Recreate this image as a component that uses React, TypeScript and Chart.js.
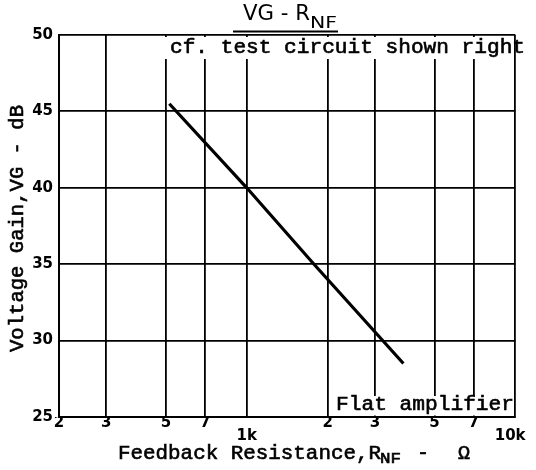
import React, { useEffect, useRef } from 'react';
import { Chart, registerables } from 'chart.js';

Chart.register(...registerables);

// ---- data ----
const resistanceOhm = [515, 1000, 1780, 3830];
const voltageGainDb = [45.5, 40, 35, 28.5];

const xTickValues = [200, 300, 500, 700, 1000, 2000, 3000, 5000, 7000, 10000];
const xTickLabels: (string | string[])[] = ['2', '3', '5', '7', ['', '1k'], '2', '3', '5', '7', ['', '10k  ']];
const yTickValues = [25, 30, 35, 40, 45, 50];

const titleMain = 'VG - R';
const titleSub = 'NF';
const noteTop = 'cf. test circuit shown right';
const noteBottom = 'Flat amplifier';
const xTitleMain = 'Feedback Resistance,R';
const xTitleSub = 'NF';
const xTitleDash = '-';
const xTitleUnit = 'Ω';
const yTitle = 'Voltage Gain,VG - dB';

const MONO = '"Liberation Mono", "DejaVu Sans Mono", monospace';
const SANS = '"DejaVu Sans", "Liberation Sans", sans-serif';

function fitText(ctx: CanvasRenderingContext2D, text: string, x: number, y: number, width: number, font: string, heavy = true) {
  ctx.save();
  ctx.font = font;
  ctx.textAlign = 'left';
  ctx.textBaseline = 'alphabetic';
  const w = ctx.measureText(text).width;
  ctx.translate(x, y);
  ctx.scale(width / w, 1);
  ctx.fillText(text, 0, 0);
  if (heavy) {
    ctx.lineWidth = 0.6;
    ctx.strokeText(text, 0, 0);
  }
  ctx.restore();
}

const annotationPlugin = {
  id: 'annotations',
  beforeDatasetsDraw(chart: any) {
    const { ctx, chartArea } = chart;
    const r = chartArea.right;
    const b = chartArea.bottom;
    const t = chartArea.top;
    ctx.save();
    ctx.fillStyle = '#fff';
    // blank areas behind the notes (gridlines stop at the text)
    ctx.fillRect(165, t + 2, r - 2 - 165, 22);
    ctx.fillRect(330, b - 21, r - 2 - 330, 19.5);
    ctx.restore();
  },
  afterDraw(chart: any) {
    const { ctx } = chart;
    ctx.save();
    ctx.fillStyle = '#000';
    ctx.strokeStyle = '#000';

    // title
    fitText(ctx, titleMain, 243, 20, 67, `21px ${SANS}`, false);
    fitText(ctx, titleSub, 310, 28, 27, `15px ${SANS}`, false);
    ctx.lineWidth = 2;
    ctx.beginPath();
    ctx.moveTo(233, 31.5);
    ctx.lineTo(338, 31.5);
    ctx.stroke();

    // notes
    fitText(ctx, noteTop, 170, 53, 355, `20px ${MONO}`);
    fitText(ctx, noteBottom, 336, 410, 178, `20px ${MONO}`);

    // x title
    fitText(ctx, xTitleMain, 118, 459, 263, `20px ${MONO}`);
    fitText(ctx, xTitleSub, 380, 463, 21, `15px ${MONO}`);
    ctx.font = `20px ${MONO}`;
    ctx.textAlign = 'center';
    ctx.textBaseline = 'alphabetic';
    ctx.lineWidth = 0.6;
    ctx.fillText(xTitleDash, 423, 459);
    ctx.strokeText(xTitleDash, 423, 459);
    ctx.fillText(xTitleUnit, 464, 459);
    ctx.strokeText(xTitleUnit, 464, 459);

    // y title
    ctx.save();
    ctx.translate(23, 352);
    ctx.rotate(-Math.PI / 2);
    fitText(ctx, yTitle, 0, 0, 247, `20px ${MONO}`);
    ctx.restore();

    ctx.restore();
  },
};

export default function App() {
  const ref = useRef<HTMLCanvasElement | null>(null);

  useEffect(() => {
    if (!ref.current) return;
    const tickFont = { family: SANS, weight: 'bold' as const, size: 15, lineHeight: 0.87 };
    const chart = new Chart(ref.current, {
      type: 'line',
      data: {
        datasets: [
          {
            data: resistanceOhm.map((x, i) => ({ x, y: voltageGainDb[i] })),
            borderColor: '#000',
            borderWidth: 3.2,
            pointRadius: 0,
            tension: 0,
            fill: false,
          },
        ],
      },
      options: {
        responsive: false,
        maintainAspectRatio: false,
        animation: false,
        layout: { padding: { left: 0, right: 8, top: 35, bottom: 0 } },
        plugins: { legend: { display: false }, tooltip: { enabled: false }, title: { display: false } },
        scales: {
          x: {
            type: 'logarithmic',
            min: 200,
            max: 10000,
            afterBuildTicks: (s: any) => {
              s.ticks = xTickValues.map((v) => ({ value: v }));
            },
            ticks: {
              autoSkip: false,
              maxRotation: 0,
              minRotation: 0,
              padding: 0,
              color: '#000',
              font: tickFont,
              callback: (_v: any, i: number) => xTickLabels[i],
            },
            grid: { color: '#000', lineWidth: 1.8, drawTicks: false },
            border: { color: '#000', width: 2 },
            afterFit: (s: any) => {
              s.height = 53;
            },
          },
          y: {
            type: 'linear',
            min: 25,
            max: 50,
            afterBuildTicks: (s: any) => {
              s.ticks = yTickValues.map((v) => ({ value: v }));
            },
            ticks: {
              padding: 6,
              color: '#000',
              font: tickFont,
              callback: (v: any) => String(v),
            },
            grid: { color: '#000', lineWidth: 1.8, drawTicks: false },
            border: { color: '#000', width: 2 },
            afterFit: (s: any) => {
              s.width = 59;
            },
          },
        },
      },
      plugins: [annotationPlugin],
    } as any);
    return () => chart.destroy();
  }, []);

  return (
    <div style={{ position: 'absolute', left: 0, top: 0, width: 536, height: 470, background: '#fff' }}>
      <canvas ref={ref} width={536} height={470} style={{ display: 'block', width: 536, height: 470 }} />
    </div>
  );
}
